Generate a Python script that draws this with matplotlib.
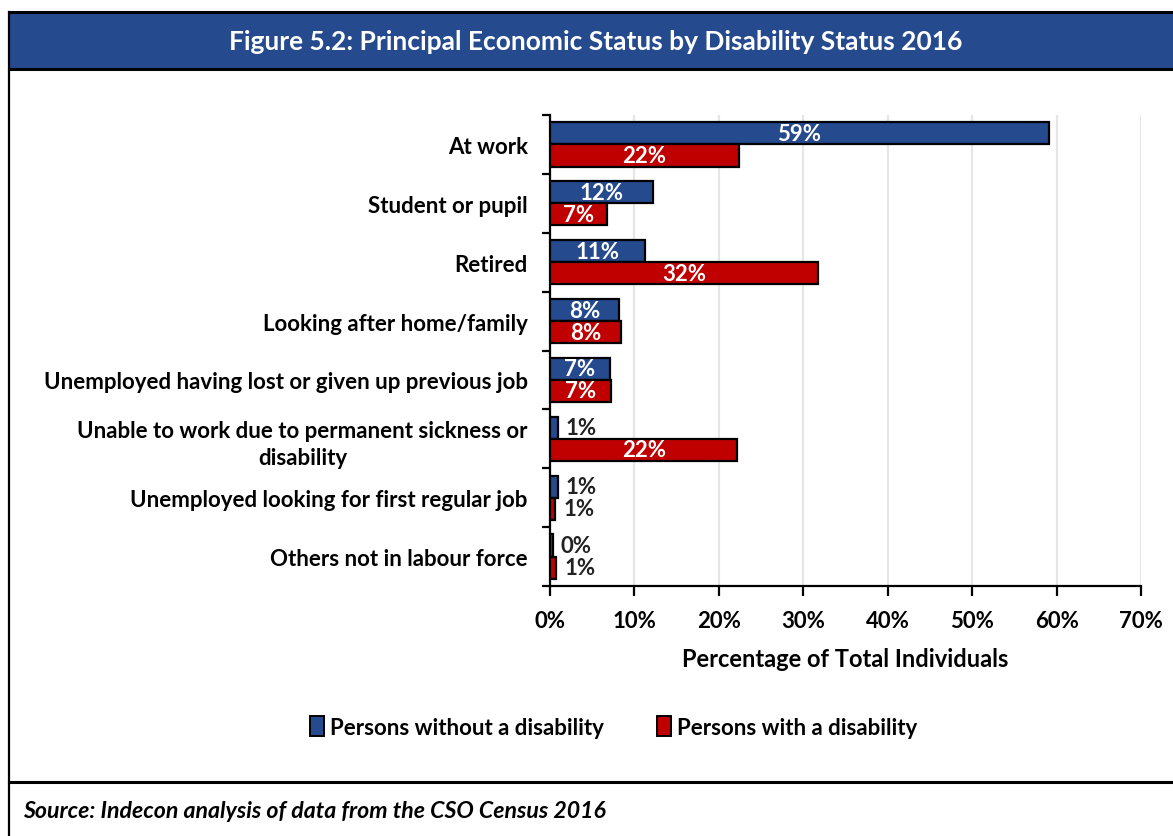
import matplotlib
matplotlib.use("Agg")
import matplotlib.pyplot as plt
from matplotlib.patches import Rectangle, Patch
from matplotlib.lines import Line2D
import numpy as np

plt.rcParams['font.family'] = ['Lato', 'DejaVu Sans']

categories = [
    "At work",
    "Student or pupil",
    "Retired",
    "Looking after home/family",
    "Unemployed having lost or given up previous job",
    "Unable to work due to permanent sickness or\ndisability",
    "Unemployed looking for first regular job",
    "Others not in labour force",
]
without_disability = [59.1, 12.2, 11.3, 8.2, 7.1, 0.9, 0.9, 0.3]
with_disability = [22.4, 6.7, 31.8, 8.4, 7.2, 22.2, 0.6, 0.7]
series_names = ["Persons without a disability", "Persons with a disability"]
xticks = [0, 10, 20, 30, 40, 50, 60, 70]

title = "Figure 5.2: Principal Economic Status by Disability Status 2016"
source = "Source: Indecon analysis of data from the CSO Census 2016"
xlabel = "Percentage of Total Individuals"

BLUE = "#264A8E"
RED = "#C00000"
W, H = 1173, 837

fig = plt.figure(figsize=(W / 100, H / 100), dpi=100)


def fx(px):
    return px / W


def fy(py):
    return 1 - py / H


# Header band, frame and footer separator
fig.add_artist(Rectangle((fx(9), fy(69)), fx(W - 9), fy(13) - fy(69),
                         transform=fig.transFigure, facecolor=BLUE,
                         edgecolor="none", zorder=0))
fig.add_artist(Line2D([fx(9), 1], [fy(13), fy(13)], transform=fig.transFigure,
                      color="black", lw=2.2))
fig.add_artist(Line2D([fx(9), 1], [fy(69.5), fy(69.5)], transform=fig.transFigure,
                      color="black", lw=2.2))
fig.add_artist(Line2D([fx(9), fx(9)], [fy(13), 0], transform=fig.transFigure,
                      color="black", lw=1.6))
fig.add_artist(Line2D([fx(9), 1], [fy(783), fy(783)], transform=fig.transFigure,
                      color="black", lw=2.2))

fig.text(fx(596), fy(42), title, color="white", fontsize=19, fontweight="bold",
         ha="center", va="center")
fig.text(fx(23), fy(812), source, color="black", fontsize=16.7, fontweight="bold",
         fontstyle="italic", ha="left", va="center")

ax = fig.add_axes([fx(550), fy(587), fx(1141) - fx(550), fy(116) - fy(587)])

n = len(categories)
y = np.arange(n)
bh = 0.375
bars_a = ax.barh(y - bh / 2, without_disability, height=bh, color=BLUE,
                 edgecolor="black", linewidth=1.6, zorder=3)
bars_b = ax.barh(y + bh / 2, with_disability, height=bh, color=RED,
                 edgecolor="black", linewidth=1.6, zorder=3)

for bars, vals in ((bars_a, without_disability), (bars_b, with_disability)):
    for bar, v in zip(bars, vals):
        cy = bar.get_y() + bar.get_height() / 2
        label = f"{v:.0f}%"
        if v >= 5:
            ax.text(v / 2, cy, label, color="white", fontsize=16,
                    fontweight="bold", ha="center", va="center", zorder=4)
        else:
            ax.annotate(label, (v, cy), xytext=(6, 0), textcoords="offset points",
                        color="#222222", fontsize=16, fontweight="bold",
                        ha="left", va="center", zorder=4)

ax.set_xlim(0, 70)
ax.set_ylim(n - 0.5, -0.5)
ax.set_xticks(xticks)
ax.set_xticklabels([f"{t}%" for t in xticks], fontsize=16, fontweight="bold")
ax.set_yticks(y)
ax.set_yticklabels(categories, fontsize=16, fontweight="bold",
                   multialignment="center", linespacing=1.35)
ax.set_yticks(np.arange(-0.5, n, 1.0), minor=True)
ax.tick_params(axis="y", which="major", length=0, pad=16)
ax.tick_params(axis="y", which="minor", length=6, width=1.6, color="black")
ax.tick_params(axis="x", which="major", length=7, width=1.6, color="black",
               pad=10, direction="out")
ax.xaxis.grid(True, color="#E6E6E6", linewidth=1.6, zorder=0)
ax.set_axisbelow(True)
for s in ("top", "right"):
    ax.spines[s].set_visible(False)
for s in ("left", "bottom"):
    ax.spines[s].set_linewidth(1.6)
    ax.spines[s].set_color("black")
ax.set_xlabel(xlabel, fontsize=17, fontweight="bold", labelpad=12)

handles = [Patch(facecolor=BLUE, edgecolor="black", linewidth=1.4),
           Patch(facecolor=RED, edgecolor="black", linewidth=1.4)]
fig.legend(handles, series_names, loc="center", bbox_to_anchor=(fx(614), fy(728)),
           ncol=2, frameon=False, handlelength=0.6,
           handleheight=1.0, handletextpad=0.3, columnspacing=2.4,
           prop={"weight": "bold", "size": 16})

fig.savefig("out.png", dpi=100)
